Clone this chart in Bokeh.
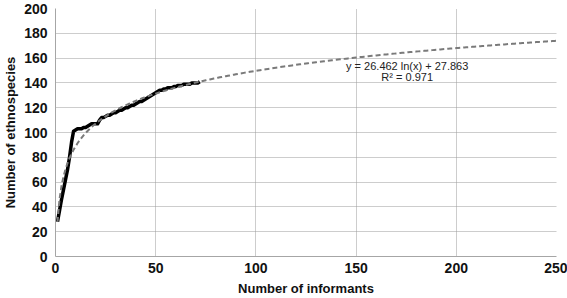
import numpy as np
from bokeh.plotting import figure
from bokeh.models import ColumnDataSource, Range1d, FixedTicker
from bokeh.core.properties import value
from bokeh.embed import file_html
from bokeh.resources import INLINE

informants = list(range(1, 73))
species = [28, 37, 46, 54, 62, 70, 80, 92, 101, 102,
           103, 103, 103, 104, 104, 105, 106, 107, 107, 107,
           107, 110, 112, 112, 113, 114, 114, 115, 116, 116,
           117, 118, 118, 119, 120, 120, 121, 122, 122, 123,
           124, 125, 125, 126, 127, 128, 129, 130, 131, 132,
           133, 134, 134, 135, 135, 136, 136, 136, 137, 137,
           138, 138, 138, 139, 139, 139, 139, 140, 140, 140,
           140, 141]

fit_a = 26.462
fit_b = 27.863
fit_r2 = 0.971
fit_x = np.linspace(1, 250, 250)
fit_y = fit_a * np.log(fit_x) + fit_b

x_ticks = [0, 50, 100, 150, 200, 250]
y_ticks = [0, 20, 40, 60, 80, 100, 120, 140, 160, 180, 200]

FONT = "Liberation Sans"

p = figure(width=567, height=298, output_backend="svg", toolbar_location=None,
           x_range=Range1d(0, 250), y_range=Range1d(0, 200),
           min_border_left=0, min_border_right=11, min_border_top=8,
           min_border_bottom=10)
p.outline_line_color = None
p.background_fill_color = "white"
p.border_fill_color = "white"

p.xaxis.ticker = FixedTicker(ticks=x_ticks)
p.yaxis.ticker = FixedTicker(ticks=y_ticks)
for ax in (p.xaxis[0], p.yaxis[0]):
    ax.major_tick_line_color = None
    ax.minor_tick_line_color = None
    ax.major_tick_out = 0
    ax.major_tick_in = 0
    ax.minor_tick_out = 0
    ax.minor_tick_in = 0
    ax.axis_line_color = "#a6a6a6"
    ax.axis_line_width = 1
    ax.major_label_text_font = FONT
    ax.major_label_text_font_style = "bold"
    ax.major_label_text_font_size = "14px"
    ax.major_label_text_color = "#111111"
    ax.axis_label_text_font = FONT
    ax.axis_label_text_font_style = "bold"
    ax.axis_label_text_font_size = "13px"
    ax.axis_label_text_color = "#111111"

p.xaxis.axis_label = "Number of informants"
p.yaxis.axis_label = "Number of ethnospecies"
p.xaxis.major_label_standoff = 6
p.yaxis.major_label_standoff = 8
p.xaxis.axis_label_standoff = 5
p.yaxis.axis_label_standoff = 3

for g in (p.xgrid[0], p.ygrid[0]):
    g.grid_line_color = "#9a9a9a"
    g.grid_line_dash = "1 1"
    g.grid_line_width = 1

src = ColumnDataSource(dict(x=informants, y=species))
p.line("x", "y", source=src, line_color="black", line_width=3.5, line_join="round")

fit_src = ColumnDataSource(dict(x=fit_x, y=fit_y))
p.line("x", "y", source=fit_src, line_color="#7a7a7a", line_width=2, line_dash="5 3")

p.text(x=[175.5], y=[154], text=[f"y = {fit_a} ln(x) + {fit_b}"],
       text_font=value(FONT), text_font_size="11px", text_color="#222222",
       text_align="center", text_baseline="middle")
p.text(x=[175.5], y=[144.5], text=[f"R² = {fit_r2}"],
       text_font=value(FONT), text_font_size="11px", text_color="#222222",
       text_align="center", text_baseline="middle")

open("out.html", "w").write(file_html(p, INLINE))
